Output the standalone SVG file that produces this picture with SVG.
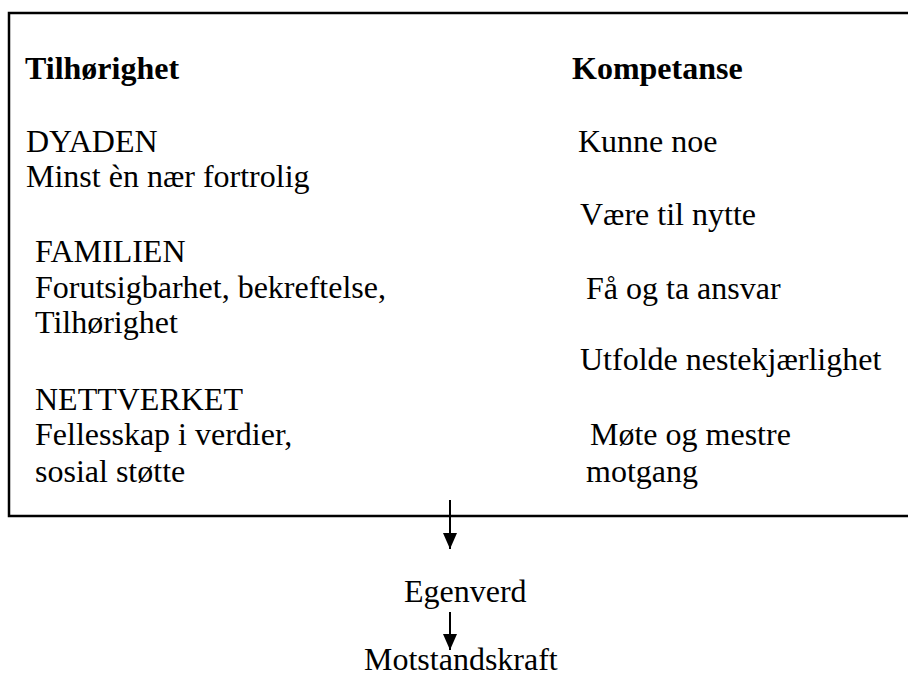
<svg xmlns="http://www.w3.org/2000/svg" width="908" height="677" viewBox="0 0 908 677">
<style>
text{font-family:"Liberation Serif","Times New Roman",Times,"DejaVu Serif",serif;font-size:32px;fill:#000}
.b{font-weight:bold}
.frame{fill:none;stroke:#000;stroke-width:2.5}
.conn{stroke:#000;stroke-width:2;fill:none}
</style>
<defs>
<marker id="ah" markerUnits="userSpaceOnUse" markerWidth="16" markerHeight="14" refX="16" refY="7" orient="auto" viewBox="0 0 16 14">
<path d="M0,0 L16,7 L0,14 Z" fill="#000"/>
</marker>
</defs>
<rect width="908" height="677" fill="#fff"/>
<g id="box">
<path class="frame" d="M908,13 H9 V516 H908"/>
<g id="tilhorighet">
<text class="b" x="25" y="79">Tilhørighet</text>
<text x="26" y="152">DYADEN</text>
<text x="26" y="187">Minst èn nær fortrolig</text>
<text x="35" y="262">FAMILIEN</text>
<text x="35" y="298">Forutsigbarhet, bekreftelse,</text>
<text x="35" y="333">Tilhørighet</text>
<text x="35" y="410">NETTVERKET</text>
<text x="35" y="445">Fellesskap i verdier,</text>
<text x="35" y="482">sosial støtte</text>
</g>
<g id="kompetanse">
<text class="b" x="572" y="79">Kompetanse</text>
<text x="578" y="152">Kunne noe</text>
<text x="580" y="225">Være til nytte</text>
<text x="586" y="299">Få og ta ansvar</text>
<text x="580" y="370">Utfolde nestekjærlighet</text>
<text x="590" y="445">Møte og mestre</text>
<text x="586" y="482">motgang</text>
</g>
</g>
<g id="egenverd"><text x="404" y="602">Egenverd</text></g>
<g id="motstandskraft"><text x="364" y="670">Motstandskraft</text></g>
<g id="connectors">
<line class="conn" x1="450" y1="500" x2="450" y2="549" marker-end="url(#ah)"/>
<line class="conn" x1="450" y1="612" x2="450" y2="650" marker-end="url(#ah)"/>
</g>
</svg>
